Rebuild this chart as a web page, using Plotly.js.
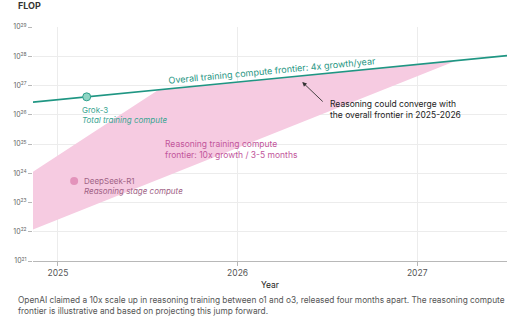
<!DOCTYPE html>
<html><head><meta charset="utf-8">
<script src="https://cdn.plot.ly/plotly-3.0.1.min.js"></script>
<style>html,body{margin:0;padding:0;background:#fff;}#c{width:526px;height:326px;}</style>
</head><body><div id="c"></div>
<script>
// Overall training compute frontier (4x growth/year)
const frontierYears = [2024.861, 2027.5];
const frontierFlop = [2.7e26, 1.05e28];
// Reasoning training compute frontier band (10x / 3-5 months)
const bandYears = [2024.861, 2025.56, 2027.22, 2024.861];
const bandFlop = [1.12e24, 7.1e26, 7.1e27, 1.2e22];
// Models
const grokYear = [2025.16], grokFlop = [4.1e26];
const deepseekYear = [2025.09], deepseekFlop = [5.4e23];
// Axes
const yTickVals = [1e21,1e22,1e23,1e24,1e25,1e26,1e27,1e28,1e29];
const yTickText = ['21','22','23','24','25','26','27','28','29'].map(e => '10<sup>' + e + '</sup>');
const xTickVals = [2025, 2026, 2027];
const xTickText = ['2025', '2026', '2027'];

const teal = '#1f9683', pinkFill = '#f6cbe1', pinkText = '#c2569b';
const F = 'Inter, "Noto Sans", sans-serif';

const traces = [
  {x: bandYears, y: bandFlop, type: 'scatter', mode: 'lines', fill: 'toself',
   fillcolor: pinkFill, line: {width: 0}, hoverinfo: 'skip'},
  {x: frontierYears, y: frontierFlop, type: 'scatter', mode: 'lines',
   line: {color: teal, width: 1.6}},
  {x: grokYear, y: grokFlop, type: 'scatter', mode: 'markers',
   marker: {size: 8, color: '#8fd5c4', line: {color: '#2fa08c', width: 1}}},
  {x: deepseekYear, y: deepseekFlop, type: 'scatter', mode: 'markers',
   marker: {size: 8, color: '#e393bb', line: {width: 0}}}
];

const layout = {
  width: 526, height: 326,
  margin: {l: 33, r: 19, t: 27, b: 65},
  paper_bgcolor: '#fff', plot_bgcolor: '#fff',
  showlegend: false,
  font: {family: F, color: '#555'},
  xaxis: {range: [2024.861, 2027.5], tickvals: xTickVals, ticktext: xTickText,
    showgrid: true, gridcolor: '#ececec', gridwidth: 1, zeroline: false,
    showline: true, linecolor: '#b8b8b8', linewidth: 1,
    ticks: 'outside', ticklen: 4, tickcolor: '#b8b8b8',
    tickfont: {size: 8.5, color: '#555', family: F},
    title: {text: 'Year', font: {size: 8.5, color: '#222', family: F}, standoff: 4}},
  yaxis: {type: 'log', range: [21, 29], tickvals: yTickVals, ticktext: yTickText,
    showgrid: true, gridcolor: '#ececec', zeroline: false, showline: false,
    ticks: 'outside', ticklen: 4, tickcolor: '#b8b8b8',
    tickfont: {size: 7, color: '#666', family: F}},
  annotations: [
    {xref: 'paper', yref: 'paper', x: -0.035, y: 1.09, xanchor: 'left', yanchor: 'middle',
     text: '<b>FLOP</b>', showarrow: false, font: {size: 9, color: '#333', family: F}},
    {x: 2026.19, y: 27.53, text: 'Overall training compute frontier: 4x growth/year',
     showarrow: false, textangle: -5.4, font: {size: 9, color: teal, family: F}},
    {x: 2026.504, y: 26.18, xanchor: 'left', align: 'left', showarrow: false,
     text: 'Reasoning could converge with<br>the overall frontier in 2025-2026',
     font: {size: 8.5, color: '#222', family: F}},
    {x: 2026.36, y: 27.12, text: '', showarrow: true, arrowhead: 2, arrowsize: 1,
     arrowwidth: 0.9, arrowcolor: '#333', ax: 22, ay: 21},
    {x: 2025.12, y: 25.98, xanchor: 'left', align: 'left', showarrow: false,
     text: 'Grok-3<br><i>Total training compute</i>',
     font: {size: 8, color: '#3aa592', family: F}},
    {x: 2025.134, y: 23.56, xanchor: 'left', align: 'left', showarrow: false,
     text: 'DeepSeek-R1<br><i>Reasoning stage compute</i>',
     font: {size: 8, color: '#a06285', family: F}},
    {x: 2025.585, y: 24.81, xanchor: 'left', align: 'left', showarrow: false,
     text: 'Reasoning training compute<br>frontier: 10x growth / 3-5 months',
     font: {size: 8.5, color: pinkText, family: F}},
    {xref: 'paper', yref: 'paper', x: -0.036, y: -0.138, xanchor: 'left', yanchor: 'top',
     align: 'left', showarrow: false,
     text: 'OpenAI claimed a 10x scale up in reasoning training between o1 and o3, released four months apart. The reasoning compute<br>frontier is illustrative and based on projecting this jump forward.',
     font: {size: 8.3, color: '#555', family: F}}
  ]
};
Plotly.newPlot('c', traces, layout, {displayModeBar: false, staticPlot: true});
</script></body></html>
